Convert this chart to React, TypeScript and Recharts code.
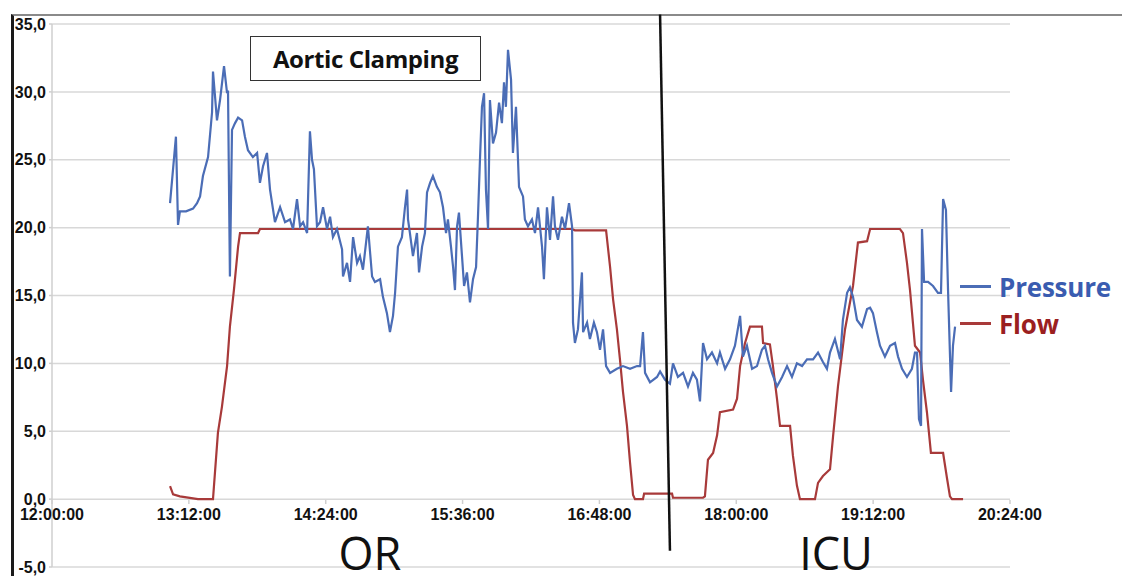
import React from "react";
import {
  LineChart,
  Line,
  XAxis,
  YAxis,
  CartesianGrid,
  ReferenceLine,
  Legend,
} from "recharts";

// time = minutes after 12:00:00
const pressureTime = [
  62.1, 65.2, 66.3, 67.3, 70.5, 74.2, 76.3, 77.9, 79.4, 82.1, 84.2, 84.7, 86.8, 88.4, 90.5, 92.1, 92.6,
  93.6, 94.7, 96.3, 97.9, 100.0, 101.5, 103.1, 105.7, 107.9, 109.4, 111.0, 113.1, 114.7, 117.3, 120.0,
  122.6, 125.2, 126.8, 128.9, 130.5, 132.1, 134.2, 135.7, 136.8, 137.8, 139.4, 141.0, 142.6, 144.7,
  146.3, 147.8, 149.9, 152.6, 153.1, 155.2, 156.8, 158.4, 160.5, 162.0, 163.6, 166.2, 168.4, 169.9,
  172.6, 174.1, 176.2, 177.8, 179.4, 180.5, 182.0, 184.1, 185.7, 186.8, 187.3, 188.3, 189.9, 192.0,
  193.1, 194.7, 196.2, 197.3, 198.9, 200.4, 202.5, 204.1, 205.7, 207.3, 208.3, 209.9, 211.0, 212.0,
  213.1, 214.1, 215.7, 216.8, 218.3, 219.9, 221.5, 223.1, 224.1, 225.2, 226.2, 227.3, 228.3, 229.4,
  230.4, 232.0, 233.6, 235.2, 236.7, 237.8, 238.8, 239.9, 241.5, 242.5, 244.1, 245.7, 247.8, 248.8,
  250.4, 252.5, 254.1, 255.7, 257.8, 258.8, 260.4, 262.0, 263.6, 264.6, 266.2, 268.3, 269.9, 272.0,
  273.6, 274.1, 275.1, 276.7, 278.8, 279.4, 281.5, 283.0, 285.1, 286.7, 288.3, 289.9, 291.5, 293.6,
  297.2, 300.4, 304.1, 307.8, 309.4, 310.9, 312.0, 314.6, 318.3, 319.9, 322.5, 325.1, 326.7, 329.3,
  332.0, 334.6, 337.2, 339.3, 340.9, 342.5, 344.6, 347.2, 349.9, 351.4, 354.1, 356.7, 359.3, 362.0,
  363.5, 365.6, 368.3, 370.9, 373.5, 375.1, 376.7, 378.8, 381.4, 384.1, 386.7, 389.3, 391.9, 394.6,
  397.2, 400.4, 403.0, 405.6, 407.7, 409.3, 411.9, 414.6, 416.1, 418.3, 419.8, 421.4, 423.5, 426.1,
  428.8, 430.4, 431.9, 434.0, 435.6, 438.2, 440.9, 443.5, 445.1, 447.2, 449.8, 452.4, 454.0, 455.1,
  456.1, 457.2, 457.7, 458.8, 460.9, 463.5, 466.1, 467.7, 468.8, 470.3, 471.4, 473.0, 474.0, 475.1,
];
const pressureValues = [
  21.8, 26.7, 20.2, 21.2, 21.2, 21.4, 21.8, 22.3, 23.8, 25.2, 28.5, 31.5, 27.9, 29.4, 31.9, 29.9, 30.1,
  16.4, 27.2, 27.7, 28.1, 27.9, 26.7, 25.7, 25.2, 25.5, 23.3, 24.5, 25.5, 22.8, 20.4, 21.5,
  20.4, 20.6, 19.9, 22.1, 20.1, 20.4, 19.6, 27.1, 25.0, 24.3, 20.1, 20.4, 21.5, 19.9,
  20.8, 19.3, 19.9, 18.4, 16.4, 17.4, 16.0, 19.3, 17.4, 17.9, 16.9, 20.1, 16.4, 16.0,
  16.2, 14.9, 13.7, 12.3, 13.5, 15.2, 18.6, 19.3, 21.5, 22.8, 20.6, 19.6, 17.9, 19.6,
  16.7, 18.6, 19.6, 22.6, 23.3, 23.8, 23.0, 22.6, 21.5, 19.6, 20.6, 18.6, 17.1, 15.4,
  20.1, 21.1, 17.9, 15.7, 16.7, 14.5, 16.2, 17.1, 20.8, 25.2, 28.9, 29.9, 22.8, 19.9,
  29.4, 26.2, 27.0, 29.2, 27.7, 30.7, 28.9, 33.1, 30.9, 25.5, 28.9, 23.0, 22.3, 20.6,
  20.1, 20.6, 19.6, 21.5, 18.6, 16.2, 21.5, 19.1, 22.3, 20.1, 19.1, 20.8, 19.9, 21.8,
  20.1, 13.0, 11.5, 12.5, 16.7, 12.3, 13.0, 11.8, 13.0, 12.3, 11.0, 12.5, 9.8, 9.3,
  9.6, 9.8, 9.6, 9.8, 9.8, 12.3, 9.3, 8.6, 9.0, 9.4, 8.8, 8.5, 10.0, 9.0,
  9.3, 8.3, 9.3, 8.8, 7.2, 11.5, 10.3, 10.8, 10.0, 10.8, 9.6, 10.3, 11.3, 13.5,
  10.5, 11.3, 9.6, 9.8, 11.0, 11.3, 10.3, 9.3, 8.3, 9.0, 9.8, 9.0, 10.0, 9.8,
  10.3, 10.3, 10.8, 10.1, 9.6, 10.8, 11.8, 10.3, 13.2, 15.2, 15.6, 14.9, 13.2, 12.7,
  14.0, 14.1, 13.7, 12.3, 11.3, 10.5, 11.3, 11.5, 10.5, 9.6, 9.0, 9.6, 10.8, 10.8,
  5.9, 5.4, 19.9, 16.0, 16.0, 15.7, 15.2, 15.2, 22.1, 21.3, 15.4, 7.9, 11.3, 12.7,
];

const flowTime = [
  62.1, 63.7, 67.3, 76.8, 84.7, 87.3, 89.4, 92.1, 93.6, 95.7, 97.9, 98.9, 108.4, 109.4, 273.6, 275.1,
  291.5, 293.6, 295.2, 297.2, 298.8, 300.4, 302.5, 304.1, 305.7, 306.7, 310.9, 311.5, 326.2, 326.7,
  342.5, 343.5, 345.1, 347.8, 349.9, 351.4, 358.3, 360.4, 362.0, 364.6, 367.2, 373.5, 374.1, 377.7,
  379.3, 381.4, 383.0, 388.3, 389.8, 391.9, 393.5, 401.4, 403.0, 405.6, 409.3, 410.9, 413.5, 417.2,
  421.4, 424.0, 428.8, 430.4, 446.1, 447.7, 449.8, 451.4, 454.0, 456.7, 458.2, 460.3, 462.4, 468.8,
  470.9, 472.4, 473.5, 479.3,
];
const flowValues = [
  0.95, 0.35, 0.2, 0.0, 0.0, 4.9, 6.8, 9.8, 12.7, 15.4, 18.6, 19.6, 19.6, 19.9, 19.9, 19.8,
  19.8, 17.1, 14.7, 12.5, 10.3, 7.9, 5.4, 2.7, 0.3, 0.0, 0.0, 0.4, 0.4, 0.1,
  0.1, 0.2, 2.9, 3.4, 4.7, 6.4, 6.6, 7.4, 9.8, 11.5, 12.7, 12.7, 11.5, 11.4,
  9.8, 7.4, 5.4, 5.4, 3.2, 1.0, 0.0, 0.0, 1.2, 1.7, 2.2, 4.6, 8.3, 12.5,
  15.7, 18.9, 19.0, 19.9, 19.9, 19.6, 17.4, 15.4, 11.3, 10.8, 8.8, 6.4, 3.4, 3.4,
  1.5, 0.2, 0.0, 0.0,
];

const xTicks = [0, 72, 144, 216, 288, 360, 432, 504];
const yTicks = [-5, 0, 5, 10, 15, 20, 25, 30, 35];

// OR / ICU divider
const dividerTop = { t: 319.9, v: 35.7 };
const dividerBottom = { t: 325.1, v: -3.8 };

const pressureData = pressureTime.map((t, i) => ({ t, pressure: pressureValues[i] }));
const flowData = flowTime.map((t, i) => ({ t, flow: flowValues[i] }));

const BLUE = "#4b6db6";
const RED = "#a83a3a";
const LABEL_FONT = "'Liberation Sans', Arial, sans-serif";
const TITLE_FONT = "'Open Sans', sans-serif";

function fmtTime(m: number) {
  const h = 12 + Math.floor(m / 60);
  const mm = m % 60;
  return `${h}:${String(mm).padStart(2, "0")}:00`;
}

function TimeTick(props: any) {
  const { x, y, payload } = props;
  // labels sit just under the 0,0 line, not at the bottom of the plot
  const zeroY = y - 67;
  return (
    <g>
      <line x1={x} x2={x} y1={zeroY} y2={zeroY + 4} stroke="#cfcfcf" strokeWidth={1.5} />
      <text
        x={x}
        y={zeroY + 20}
        textAnchor="middle"
        fontFamily={LABEL_FONT}
        fontWeight="bold"
        fontSize={16}
        fill="#111"
      >
        {fmtTime(payload.value)}
      </text>
    </g>
  );
}

function LegendContent() {
  const items = [
    { name: "Pressure", color: BLUE, text: "#3a5cb0" },
    { name: "Flow", color: RED, text: "#9b1f1f" },
  ];
  return (
    <div>
      {items.map((it) => (
        <div
          key={it.name}
          style={{ display: "flex", alignItems: "center", height: 37, fontFamily: TITLE_FONT }}
        >
          <span
            style={{ display: "inline-block", width: 31, height: 2.5, background: it.color, marginRight: 8 }}
          />
          <span style={{ color: it.text, fontWeight: 700, fontSize: 26, letterSpacing: -0.2 }}>
            {it.name}
          </span>
        </div>
      ))}
    </div>
  );
}

const bigLabel: React.CSSProperties = {
  position: "absolute",
  width: 140,
  top: 531,
  textAlign: "center",
  fontFamily: TITLE_FONT,
  fontSize: 45,
  lineHeight: "44px",
  color: "#111",
};

export default function App() {
  return (
    <div style={{ position: "relative", width: 1122, height: 576, background: "#fff", overflow: "hidden" }}>
      <style>{`body{margin:0}`}</style>
      <div
        style={{
          position: "absolute",
          left: 11,
          top: 14,
          width: 1111,
          height: 562,
          borderLeft: "3px solid #1a1a1a",
          borderTop: "2px solid #8a8a8a",
        }}
      />
      <div style={{ position: "absolute", left: 0, top: 0 }}>
        <LineChart
          width={1122}
          height={576}
          margin={{ top: 24, right: 112, bottom: 8, left: 0 }}
        >
          <CartesianGrid vertical={false} stroke="#d8d8d8" strokeWidth={1.5} />
          <XAxis
            dataKey="t"
            type="number"
            domain={[0, 504]}
            ticks={xTicks}
            allowDataOverflow
            axisLine={false}
            tickLine={false}
            tickSize={0}
            tickMargin={0}
            height={1}
            tick={<TimeTick />}
            interval={0}
          />
          <YAxis
            type="number"
            domain={[-5, 35]}
            ticks={yTicks}
            width={52}
            axisLine={{ stroke: "#cfcfcf", strokeWidth: 1.5 }}
            tickLine={{ stroke: "#cfcfcf", strokeWidth: 1.5 }}
            tickSize={3}
            tickMargin={3}
            tickFormatter={(v: number) => v.toFixed(1).replace(".", ",")}
            tick={{ fontFamily: LABEL_FONT, fontWeight: "bold", fontSize: 16, fill: "#111" }}
            interval={0}
          />
          <Legend
            verticalAlign="middle"
            align="center"
            layout="vertical"
            wrapperStyle={{ left: 960, top: 268, width: 162 }}
            content={<LegendContent />}
          />
          <Line
            data={flowData}
            dataKey="flow"
            name="Flow"
            type="linear"
            stroke={RED}
            strokeWidth={2.2}
            dot={false}
            isAnimationActive={false}
          />
          <Line
            data={pressureData}
            dataKey="pressure"
            name="Pressure"
            type="linear"
            stroke={BLUE}
            strokeWidth={2.2}
            dot={false}
            isAnimationActive={false}
          />
          <ReferenceLine
            segment={[
              { x: dividerTop.t, y: dividerTop.v },
              { x: dividerBottom.t, y: dividerBottom.v },
            ]}
            stroke="#111"
            strokeWidth={2.5}
            ifOverflow="visible"
          />
        </LineChart>
      </div>
      <div
        style={{
          position: "absolute",
          left: 250,
          top: 36,
          width: 229,
          height: 43,
          border: "1.5px solid #333",
          background: "#fff",
          display: "flex",
          alignItems: "center",
          justifyContent: "center",
          fontFamily: TITLE_FONT,
          fontWeight: 700,
          fontSize: 24,
          color: "#111",
          letterSpacing: -0.4,
        }}
      >
        Aortic Clamping
      </div>
      <div style={{ ...bigLabel, left: 300 }}>OR</div>
      <div style={{ ...bigLabel, left: 766 }}>ICU</div>
    </div>
  );
}
